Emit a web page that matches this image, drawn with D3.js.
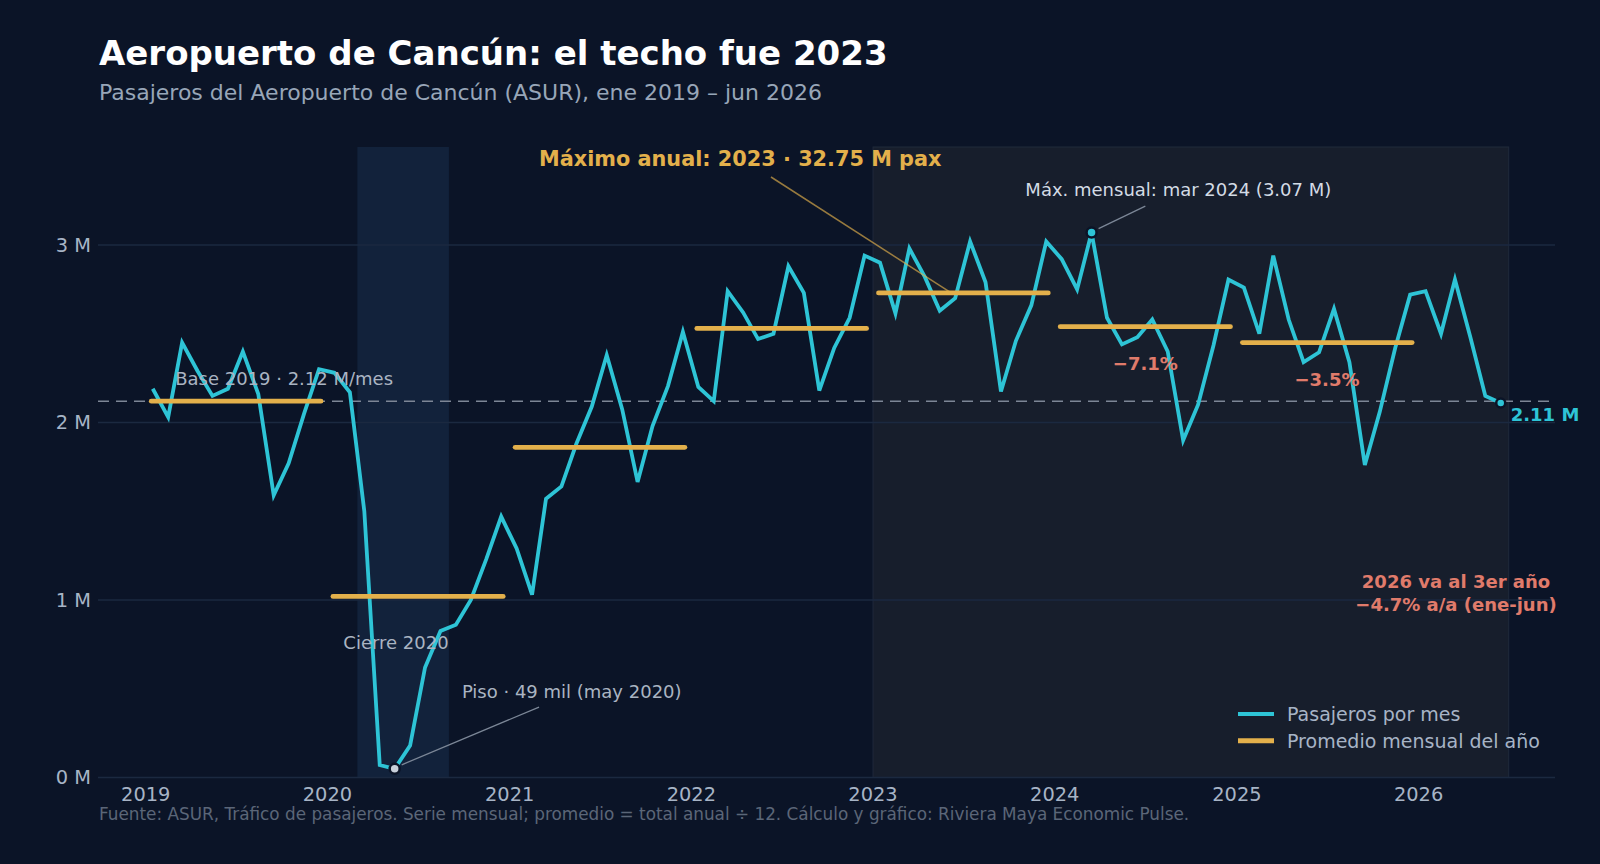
<!DOCTYPE html>
<html>
<head>
<meta charset="utf-8">
<script src="https://cdn.jsdelivr.net/npm/d3@7"></script>
<style>
  html, body { margin: 0; padding: 0; background: #0b1427; }
  svg { display: block; font-family: "DejaVu Sans", sans-serif; }
</style>
</head>
<body>
<svg id="chart" width="1600" height="864"></svg>
<script>
// pasajeros por mes (millones), ene 2019 - jun 2026
var pasajeros2019 = [2.19, 2.03, 2.45, 2.29, 2.15, 2.19, 2.40, 2.16, 1.59, 1.77, 2.05, 2.30];
var pasajeros2020 = [2.28, 2.17, 1.50, 0.07, 0.049, 0.18, 0.62, 0.825, 0.86, 1.00, 1.23, 1.47];
var pasajeros2021 = [1.29, 1.03, 1.57, 1.64, 1.88, 2.09, 2.38, 2.075, 1.665, 1.98, 2.205, 2.51];
var pasajeros2022 = [2.20, 2.12, 2.74, 2.62, 2.47, 2.50, 2.88, 2.73, 2.18, 2.42, 2.59, 2.94];
var pasajeros2023 = [2.90, 2.615, 2.98, 2.82, 2.63, 2.70, 3.02, 2.79, 2.175, 2.46, 2.66, 3.02];
var pasajeros2024 = [2.92, 2.75, 3.07, 2.59, 2.44, 2.48, 2.58, 2.40, 1.90, 2.10, 2.435, 2.805];
var pasajeros2025 = [2.76, 2.50, 2.94, 2.58, 2.34, 2.395, 2.64, 2.34, 1.76, 2.06, 2.42, 2.72];
var pasajeros2026 = [2.74, 2.50, 2.805, 2.48, 2.15, 2.11];

// promedio mensual de cada año completo (total anual / 12)
var promedioYears = [2019, 2020, 2021, 2022, 2023, 2024, 2025];
var promedioValues = [2.12, 1.02, 1.86, 2.53, 2.73, 2.54, 2.45];

// variacion anual de los años tras el maximo
var caidaYears = [2024, 2025];
var caidaLabels = ["−7.1%", "−3.5%"];

var yearTicks = [2019, 2020, 2021, 2022, 2023, 2024, 2025, 2026];
var yTicks = [0, 1, 2, 3];
var yTickLabels = ["0 M", "1 M", "2 M", "3 M"];
var base2019 = 2.12;

function drawChart() {
  var colors = {
    bg: "#0b1427",
    covid: "#12223b",
    post: "#171e2c",
    grid: "#1b2940",
    line: "#2ec4d6",
    avg: "#e3b04b",
    neg: "#e07b6b",
    tick: "#a7b4c6",
    note: "#aab4c2",
    leader: "#7c8797"
  };

  var allValues = [].concat(pasajeros2019, pasajeros2020, pasajeros2021, pasajeros2022,
    pasajeros2023, pasajeros2024, pasajeros2025, pasajeros2026);
  var series = allValues.map(function (v, i) {
    return { date: new Date(2019 + Math.floor(i / 12), i % 12, 15), value: v };
  });

  var svg = d3.select("#chart");
  var plotLeft = 98, plotRight = 1555, plotTop = 147, plotBottom = 777.5;

  var x = d3.scaleTime()
    .domain([new Date(2018, 8, 27), new Date(2026, 9, 2)])
    .range([plotLeft, plotRight]);
  var y = d3.scaleLinear()
    .domain([0, 3.552])
    .range([plotBottom, plotTop]);

  svg.append("rect")
    .attr("width", 1600).attr("height", 864)
    .attr("fill", colors.bg);

  // sombreados
  svg.append("rect")
    .attr("x", x(new Date(2020, 2, 1)))
    .attr("y", plotTop)
    .attr("width", x(new Date(2020, 8, 1)) - x(new Date(2020, 2, 1)))
    .attr("height", plotBottom - plotTop)
    .attr("fill", colors.covid);
  svg.append("rect")
    .attr("x", x(new Date(2023, 0, 1)))
    .attr("y", plotTop)
    .attr("width", x(new Date(2026, 6, 1)) - x(new Date(2023, 0, 1)))
    .attr("height", plotBottom - plotTop)
    .attr("fill", colors.post)
    .attr("stroke", "#202a3b")
    .attr("stroke-width", 1);

  // grid
  svg.selectAll(".grid")
    .data(yTicks)
    .enter()
    .append("line")
      .attr("class", "grid")
      .attr("x1", plotLeft).attr("x2", plotRight)
      .attr("y1", function (d) { return y(d); })
      .attr("y2", function (d) { return y(d); })
      .attr("stroke", colors.grid)
      .attr("stroke-width", 1.4);

  svg.selectAll(".ytick")
    .data(yTicks)
    .enter()
    .append("text")
      .attr("class", "ytick")
      .attr("x", 91)
      .attr("y", function (d) { return y(d); })
      .attr("dy", "0.36em")
      .attr("text-anchor", "end")
      .attr("font-size", 19.4)
      .attr("fill", colors.tick)
      .text(function (d, i) { return yTickLabels[i]; });

  svg.selectAll(".xtick")
    .data(yearTicks)
    .enter()
    .append("text")
      .attr("class", "xtick")
      .attr("x", function (d) { return x(new Date(d, 0, 1)); })
      .attr("y", 800.5)
      .attr("text-anchor", "middle")
      .attr("font-size", 19.4)
      .attr("fill", colors.tick)
      .text(function (d) { return d; });

  // base 2019
  svg.append("line")
    .attr("x1", plotLeft).attr("x2", plotRight)
    .attr("y1", y(base2019)).attr("y2", y(base2019))
    .attr("stroke", "#7d8696")
    .attr("stroke-width", 1.6)
    .attr("stroke-dasharray", "11,7");

  // serie mensual
  var line = d3.line()
    .x(function (d) { return x(d.date); })
    .y(function (d) { return y(d.value); });
  svg.append("path")
    .datum(series)
    .attr("d", line)
    .attr("fill", "none")
    .attr("stroke", colors.line)
    .attr("stroke-width", 3.8)
    .attr("stroke-linejoin", "miter");

  // promedios anuales
  svg.selectAll(".avg")
    .data(promedioValues)
    .enter()
    .append("line")
      .attr("class", "avg")
      .attr("x1", function (d, i) { return x(new Date(promedioYears[i], 0, 12)); })
      .attr("x2", function (d, i) { return x(new Date(promedioYears[i], 11, 19)); })
      .attr("y1", function (d) { return y(d); })
      .attr("y2", function (d) { return y(d); })
      .attr("stroke", colors.avg)
      .attr("stroke-width", 4.8)
      .attr("stroke-linecap", "round");

  svg.selectAll(".caida")
    .data(caidaYears)
    .enter()
    .append("text")
      .attr("class", "caida")
      .attr("x", function (d) { return x(new Date(d, 6, 1)); })
      .attr("y", function (d) { return y(promedioValues[promedioYears.indexOf(d)]) + 43.5; })
      .attr("text-anchor", "middle")
      .attr("font-size", 18)
      .attr("font-weight", "bold")
      .attr("fill", colors.neg)
      .text(function (d, i) { return caidaLabels[i]; });

  // anotaciones
  svg.append("text")
    .attr("x", x(new Date(2019, 2, 1)))
    .attr("y", 385)
    .attr("font-size", 18)
    .attr("fill", colors.note)
    .text("Base 2019 · 2.12 M/mes");

  svg.append("text")
    .attr("x", 396)
    .attr("y", 649)
    .attr("text-anchor", "middle")
    .attr("font-size", 18)
    .attr("fill", colors.note)
    .text("Cierre 2020");

  var piso = series[16];
  svg.append("line")
    .attr("x1", x(piso.date) + 7).attr("y1", y(piso.value) - 4)
    .attr("x2", x(new Date(2021, 2, 1))).attr("y2", y(0.397))
    .attr("stroke", colors.leader)
    .attr("stroke-width", 1.3);
  svg.append("circle")
    .attr("cx", x(piso.date)).attr("cy", y(piso.value))
    .attr("r", 5)
    .attr("fill", "#c8d0da")
    .attr("stroke", colors.bg)
    .attr("stroke-width", 2.5);
  svg.append("text")
    .attr("x", x(new Date(2020, 8, 27)))
    .attr("y", 697.6)
    .attr("font-size", 18)
    .attr("fill", colors.note)
    .text("Piso · 49 mil (may 2020)");

  svg.append("line")
    .attr("x1", x(new Date(2022, 5, 10))).attr("y1", y(3.383))
    .attr("x2", x(new Date(2023, 5, 7))).attr("y2", y(promedioValues[4]))
    .attr("stroke", colors.avg)
    .attr("stroke-opacity", 0.65)
    .attr("stroke-width", 1.5);
  svg.append("text")
    .attr("x", x(new Date(2021, 2, 1)))
    .attr("y", 166)
    .attr("font-size", 20.8)
    .attr("font-weight", "bold")
    .attr("fill", colors.avg)
    .text("Máximo anual: 2023 · 32.75 M pax");

  var maxMes = series[62];
  svg.append("line")
    .attr("x1", x(maxMes.date) + 7).attr("y1", y(maxMes.value) - 4)
    .attr("x2", x(new Date(2024, 6, 1))).attr("y2", y(3.219))
    .attr("stroke", colors.leader)
    .attr("stroke-width", 1.3);
  svg.append("circle")
    .attr("cx", x(maxMes.date)).attr("cy", y(maxMes.value))
    .attr("r", 5)
    .attr("fill", colors.line)
    .attr("stroke", colors.bg)
    .attr("stroke-width", 2.5);
  svg.append("text")
    .attr("x", x(new Date(2023, 10, 3)))
    .attr("y", 196)
    .attr("font-size", 18)
    .attr("fill", "#d3dbe5")
    .text("Máx. mensual: mar 2024 (3.07 M)");

  var ultimo = series[series.length - 1];
  svg.append("circle")
    .attr("cx", x(ultimo.date)).attr("cy", y(ultimo.value))
    .attr("r", 4.5)
    .attr("fill", colors.line)
    .attr("stroke", colors.bg)
    .attr("stroke-width", 2.5);
  svg.append("text")
    .attr("x", x(ultimo.date) + 10)
    .attr("y", y(ultimo.value) + 18)
    .attr("font-size", 18)
    .attr("font-weight", "bold")
    .attr("fill", colors.line)
    .text("2.11 M");

  var nota2026 = svg.append("text")
    .attr("text-anchor", "middle")
    .attr("font-size", 18)
    .attr("font-weight", "bold")
    .attr("fill", colors.neg);
  nota2026.append("tspan").attr("x", 1456).attr("y", 588).text("2026 va al 3er año");
  nota2026.append("tspan").attr("x", 1456).attr("y", 610.5).text("−4.7% a/a (ene-jun)");

  // leyenda
  var legendItems = [
    { label: "Pasajeros por mes", color: colors.line, w: 4 },
    { label: "Promedio mensual del año", color: colors.avg, w: 5 }
  ];
  var legend = svg.selectAll(".legend")
    .data(legendItems)
    .enter()
    .append("g")
      .attr("class", "legend")
      .attr("transform", function (d, i) { return "translate(1238," + (714 + i * 26.7) + ")"; });
  legend.append("line")
    .attr("x1", 0).attr("x2", 36)
    .attr("stroke", function (d) { return d.color; })
    .attr("stroke-width", function (d) { return d.w; });
  legend.append("text")
    .attr("x", 49)
    .attr("dy", "0.36em")
    .attr("font-size", 19)
    .attr("fill", colors.tick)
    .text(function (d) { return d.label; });

  // titulos
  svg.append("text")
    .attr("x", 99).attr("y", 65)
    .attr("font-size", 34)
    .attr("font-weight", "bold")
    .attr("fill", "#ffffff")
    .text("Aeropuerto de Cancún: el techo fue 2023");
  svg.append("text")
    .attr("x", 99).attr("y", 100)
    .attr("font-size", 22)
    .attr("fill", "#98a6b8")
    .text("Pasajeros del Aeropuerto de Cancún (ASUR), ene 2019 – jun 2026");
  svg.append("text")
    .attr("x", 99).attr("y", 820)
    .attr("font-size", 16.85)
    .attr("fill", "#5b6678")
    .text("Fuente: ASUR, Tráfico de pasajeros. Serie mensual; promedio = total anual ÷ 12. Cálculo y gráfico: Riviera Maya Economic Pulse.");
}

drawChart();
</script>
</body>
</html>
